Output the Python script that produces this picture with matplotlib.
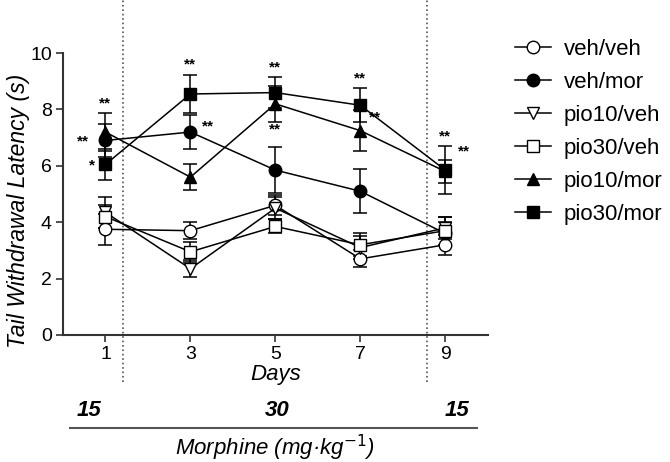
import matplotlib
matplotlib.use("Agg")
import matplotlib.pyplot as plt
from matplotlib.lines import Line2D

plt.rcParams['font.family'] = ['Liberation Sans', 'DejaVu Sans']

# days and group means / error bars
days = [1, 3, 5, 7, 9]
groups = ['veh/veh', 'veh/mor', 'pio10/veh', 'pio30/veh', 'pio10/mor', 'pio30/mor']
veh_veh = [3.75, 3.7, 4.6, 2.7, 3.2]
veh_veh_err = [0.55, 0.3, 0.35, 0.3, 0.35]
veh_mor = [6.9, 7.2, 5.85, 5.1, 3.6]
veh_mor_err = [0.6, 0.6, 0.83, 0.78, 0.4]
pio10_veh = [4.35, 2.35, 4.5, 3.1, 3.8]
pio10_veh_err = [0.55, 0.3, 0.4, 0.4, 0.4]
pio30_veh = [4.2, 2.95, 3.85, 3.2, 3.7]
pio30_veh_err = [0.4, 0.35, 0.25, 0.4, 0.5]
pio10_mor = [7.2, 5.6, 8.2, 7.25, 5.8]
pio10_mor_err = [0.66, 0.47, 0.65, 0.74, 0.4]
pio30_mor = [6.05, 8.55, 8.6, 8.15, 5.85]
pio30_mor_err = [0.56, 0.69, 0.54, 0.6, 0.84]

means = [veh_veh, veh_mor, pio10_veh, pio30_veh, pio10_mor, pio30_mor]
errs = [veh_veh_err, veh_mor_err, pio10_veh_err, pio30_veh_err, pio10_mor_err, pio30_mor_err]
markers = ['o', 'o', 'v', 's', '^', 's']
faces = ['white', 'black', 'white', 'white', 'black', 'black']

# significance marks
star_x = [1, 0.47, 0.69, 3, 3.42, 5, 5, 7, 7.35, 9, 9.45]
star_y = [8.2, 6.85, 6.0, 9.6, 7.4, 9.5, 7.3, 9.1, 7.7, 7.05, 6.5]
star_txt = ['**', '**', '*', '**', '**', '**', '**', '**', '**', '**', '**']

# morphine dose per period
dose_x = [0.61, 5.05, 9.27]
dose_txt = ['15', '30', '15']

fig = plt.figure(figsize=(6.7, 4.62), dpi=100)
ax = fig.add_axes([0.094, 0.275, 0.634, 0.61])

handles = []
for m, e, mk, fc, lab in zip(means, errs, markers, faces, groups):
    ax.errorbar(days, m, yerr=e, marker=mk, mfc=fc, mec='black', color='black',
                ms=9, lw=1.1, elinewidth=1.1, capsize=5, capthick=1.1)
    handles.append(Line2D([0], [0], marker=mk, mfc=fc, mec='black', color='black',
                          ms=9, lw=1.1, label=lab))

for x, y, t in zip(star_x, star_y, star_txt):
    ax.text(x, y, t, ha='center', va='center', fontsize=11, fontweight='bold')

# dotted period separators
for xv in [1.42, 8.57]:
    ax.plot([xv, xv], [-1.67, 11.9], ls=':', color='#555555', lw=1.2, clip_on=False)

ax.set_xlim(0, 10)
ax.set_ylim(0, 10)
ax.set_xticks(days)
ax.set_yticks([0, 2, 4, 6, 8, 10])
ax.tick_params(labelsize=14, width=1.2, length=5, color='#333333', pad=3)
for s in ['top', 'right']:
    ax.spines[s].set_visible(False)
for s in ['left', 'bottom']:
    ax.spines[s].set_linewidth(1.5)
    ax.spines[s].set_color('#333333')

ax.set_ylabel('Tail Withdrawal Latency (s)', fontsize=16.5, style='italic')
ax.yaxis.set_label_coords(-0.078, 0.44)
ax.set_xlabel('Days', fontsize=16, style='italic', labelpad=1)

for x, t in zip(dose_x, dose_txt):
    ax.text(x, -2.68, t, ha='center', va='center', fontsize=16,
            fontweight='bold', style='italic', clip_on=False)
ax.plot([0.17, 9.74], [-3.3, -3.3], color='#555555', lw=1.5, clip_on=False)
ax.text(5.0, -4.0, 'Morphine (mg\u00b7kg$^{-1}$)', ha='center', va='center',
        fontsize=16, style='italic', clip_on=False)

ax.legend(handles=handles, loc='upper left', bbox_to_anchor=(0.739, 0.959),
          bbox_transform=fig.transFigure, frameon=False, fontsize=16,
          handlelength=1.6, labelspacing=0.54, handletextpad=0.6)

fig.savefig('out.png', dpi=100)
